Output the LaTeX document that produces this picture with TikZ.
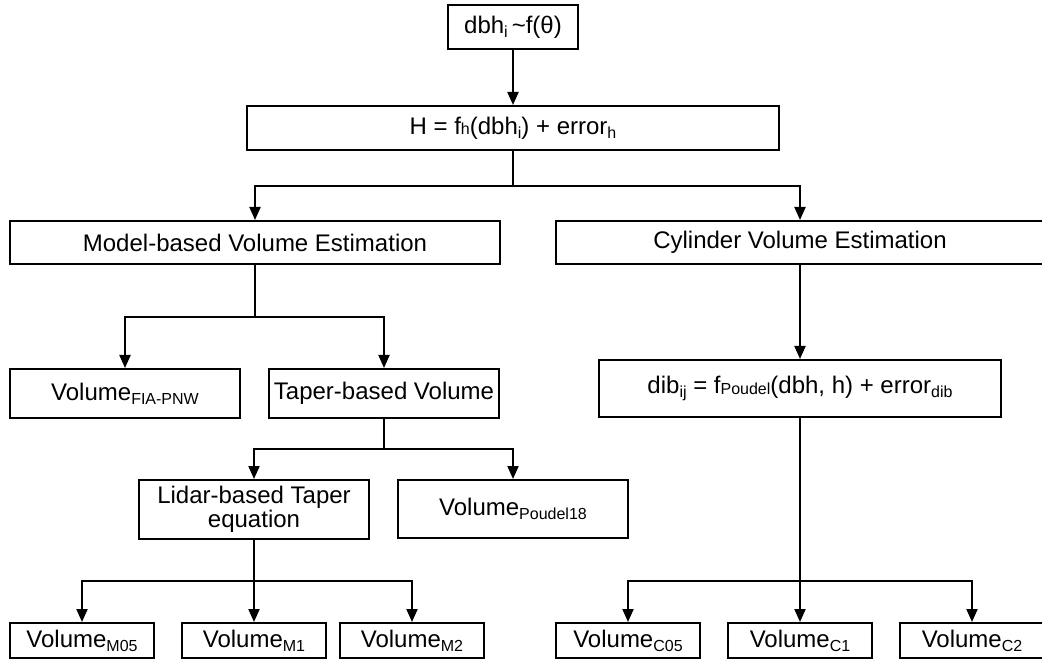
\documentclass[tikz,border=0pt]{standalone}
\usepackage{fontspec}
\setmainfont{Liberation Sans}
\usetikzlibrary{arrows.meta}
\newcommand\subs[2][4pt]{\raisebox{-#1}{\fontsize{16}{16}\selectfont #2}}
\tikzset{
  box/.style={draw, line width=2pt, rectangle, inner sep=0pt, align=center,
    font=\fontsize{24}{27}\selectfont},
  conn/.style={line width=2pt},
  arr/.style={line width=2pt, -{Triangle[length=13pt,width=11pt]}}
}
\begin{document}
\begin{tikzpicture}[x=1pt,y=-1pt]
\useasboundingbox (0,0) rectangle (1042,660);
\clip (0,0) rectangle (1042,660);
\fill[white] (0,0) rectangle (1042,660);
% nodes
\node[box, minimum width=130pt, minimum height=44pt] (top) at (513,27) {dbh\subs{i}\,\textasciitilde f(θ)};
\node[box, minimum width=532pt, minimum height=44pt] (H) at (513,128) {H = f\subs[0.5pt]{h}(dbh\subs{i}) + error\subs{h}};
\node[box, minimum width=490pt, minimum height=43pt] (model) at (255,242.5) {Model-based Volume Estimation};
\node[box, minimum width=488pt, minimum height=43pt] (cyl) at (800,242.5) {Cylinder Volume Estimation};
\node[box, minimum width=230pt, minimum height=49pt] (fia) at (125,393.5) {Volume\subs{FIA-PNW}};
\node[box, minimum width=230pt, minimum height=49pt] (taper) at (384,393.5) {Taper-based Volume};
\node[box, minimum width=230pt, minimum height=59pt] (lidar) at (254,509.5) {Lidar-based Taper\\[-3pt]equation};
\node[box, minimum width=230pt, minimum height=58pt] (p18) at (513,509) {Volume\subs{Poudel18}};
\node[box, minimum width=402pt, minimum height=57pt] (dib) at (800,388.5) {dib\subs{ij} = f\subs[0.5pt]{Poudel}(dbh, h) + error\subs{dib}};
\node[box, minimum width=144pt, minimum height=35pt] (m05) at (82,640.5) {Volume\subs{M05}};
\node[box, minimum width=144pt, minimum height=35pt] (m1) at (254,640.5) {Volume\subs{M1}};
\node[box, minimum width=144pt, minimum height=35pt] (m2) at (412,640.5) {Volume\subs{M2}};
\node[box, minimum width=144pt, minimum height=35pt] (c05) at (628,640.5) {Volume\subs{C05}};
\node[box, minimum width=144pt, minimum height=35pt] (c1) at (800,640.5) {Volume\subs{C1}};
\node[box, minimum width=144pt, minimum height=35pt] (c2) at (972,640.5) {Volume\subs{C2}};
% junctions
\coordinate (j1) at (513,186);
\coordinate (j2) at (255,317);
\coordinate (j3) at (384,449);
\coordinate (j4) at (254,581);
\coordinate (j5) at (800,581);
% connectors
\draw[arr] (top.south) -- (H.north);
\draw[conn] (H.south) -- (j1);
\draw[arr] (j1) -| (model.north);
\draw[arr] (j1) -| (cyl.north);
\draw[conn] (model.south) -- (j2);
\draw[arr] (j2) -| (fia.north);
\draw[arr] (j2) -| (taper.north);
\draw[conn] (taper.south) -- (j3);
\draw[arr] (j3) -| (lidar.north);
\draw[arr] (j3) -| (p18.north);
\draw[arr] (cyl.south) -- (dib.north);
\draw[conn] (lidar.south) -- (j4);
\draw[arr] (j4) -| (m05.north);
\draw[arr] (j4) -- (m1.north);
\draw[arr] (j4) -| (m2.north);
\draw[conn] (dib.south) -- (j5);
\draw[arr] (j5) -| (c05.north);
\draw[arr] (j5) -- (c1.north);
\draw[arr] (j5) -| (c2.north);
\end{tikzpicture}
\end{document}
